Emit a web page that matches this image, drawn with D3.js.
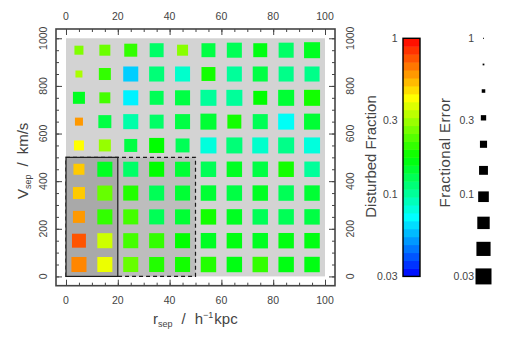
<!DOCTYPE html>
<html><head><meta charset="utf-8">
<script src="https://cdn.jsdelivr.net/npm/d3@7"></script>
<style>
body{margin:0;background:#fff;}
svg{display:block;}
text{font-family:"Liberation Sans",Arial,sans-serif;fill:#444;}
</style>
</head><body><svg id="chart" width="512" height="342"></svg>
<script>
// ---------------- data ----------------
const rCenters = [5, 15, 25, 35, 45, 55, 65, 75, 85, 95];
const vCenters = [950, 850, 750, 650, 550, 450, 350, 250, 150, 50];
// disturbed fraction, rows ordered as vCenters (top to bottom), columns as rCenters
const disturbedFraction = [
  [0.268, 0.250, 0.206, 0.122, 0.276, 0.137, 0.129, 0.163, 0.122, 0.154],
  [0.310, 0.206, 0.061, 0.115, 0.086, 0.184, 0.102, 0.137, 0.108, 0.108],
  [0.154, 0.219, 0.069, 0.129, 0.137, 0.102, 0.102, 0.173, 0.145, 0.184],
  [0.590, 0.137, 0.097, 0.122, 0.137, 0.145, 0.184, 0.129, 0.074, 0.145],
  [0.416, 0.290, 0.137, 0.173, 0.129, 0.081, 0.115, 0.086, 0.108, 0.081],
  [0.500, 0.154, 0.122, 0.173, 0.145, 0.129, 0.154, 0.137, 0.184, 0.102],
  [0.500, 0.246, 0.195, 0.129, 0.145, 0.145, 0.137, 0.154, 0.129, 0.145],
  [0.590, 0.206, 0.219, 0.129, 0.145, 0.184, 0.154, 0.129, 0.129, 0.137],
  [0.750, 0.350, 0.219, 0.206, 0.173, 0.154, 0.163, 0.154, 0.163, 0.163],
  [0.630, 0.390, 0.246, 0.195, 0.184, 0.195, 0.163, 0.206, 0.163, 0.163]
];
// fractional error (sets square size)
const fractionalError = [
  [0.139, 0.090, 0.058, 0.047, 0.090, 0.047, 0.037, 0.047, 0.037, 0.030],
  [0.216, 0.072, 0.037, 0.037, 0.037, 0.047, 0.037, 0.037, 0.037, 0.037],
  [0.072, 0.090, 0.037, 0.047, 0.037, 0.030, 0.030, 0.047, 0.030, 0.030],
  [0.173, 0.058, 0.037, 0.047, 0.037, 0.030, 0.047, 0.037, 0.030, 0.030],
  [0.112, 0.072, 0.058, 0.037, 0.047, 0.030, 0.030, 0.030, 0.030, 0.030],
  [0.090, 0.037, 0.037, 0.037, 0.037, 0.034, 0.034, 0.034, 0.034, 0.034],
  [0.072, 0.037, 0.037, 0.037, 0.037, 0.034, 0.034, 0.034, 0.034, 0.034],
  [0.072, 0.037, 0.037, 0.037, 0.037, 0.034, 0.034, 0.034, 0.034, 0.034],
  [0.047, 0.037, 0.037, 0.037, 0.037, 0.034, 0.034, 0.034, 0.034, 0.034],
  [0.037, 0.037, 0.037, 0.037, 0.037, 0.034, 0.034, 0.034, 0.034, 0.034]
];
const xTicks = [0, 20, 40, 60, 80, 100];
const yTicks = [0, 200, 400, 600, 800, 1000];
const xMinorTicks = d3.range(0, 101, 5);
const yMinorTicks = d3.range(0, 1001, 50);
const dataExtentR = [0, 100];
const dataExtentV = [0, 1000];
const outerRegion = [0, 50, 0, 500];   // r0, r1, v0, v1 (dashed)
const innerRegion = [0, 20, 0, 500];   // r0, r1, v0, v1 (solid)
const fracTicks = [1, 0.3, 0.1, 0.03];
const fracTickLabels = ["1", "0.3", "0.1", "0.03"];
const errTicks = [1, 0.3, 0.1, 0.03];
const errTickLabels = ["1", "0.3", "0.1", "0.03"];
const errLegendValues = [1, 0.68, 0.46, 0.31, 0.21, 0.143, 0.097, 0.066, 0.045, 0.03];
const nColorBands = 30;

// ---------------- scales ----------------
const svg = d3.select("#chart");
const frame = {l: 56, r: 335, t: 29, b: 285.7};
const x = d3.scaleLinear().domain([-3.86, 103.86]).range([frame.l, frame.r]);
const y = d3.scaleLinear().domain([-39, 1039]).range([frame.b, frame.t]);
const tScale = d3.scaleLog().domain([0.03, 1]).range([0, 1]).clamp(true);
const colorOf = v => d3.hsl(240 * (1 - tScale(v)), 1, 0.5).formatHex();
const sizeScale = d3.scaleLog().domain([1, 0.03]).range([0, 16]).clamp(true);
const cbY = d3.scaleLog().domain([0.03, 1]).range([y(0), y(1000)]);

// ---------------- background ----------------
svg.append("rect").attr("x", x(dataExtentR[0])).attr("y", y(dataExtentV[1]))
  .attr("width", x(dataExtentR[1]) - x(dataExtentR[0]))
  .attr("height", y(dataExtentV[0]) - y(dataExtentV[1]))
  .attr("fill", "#d3d3d3");

function regionRect(reg, fill, dash) {
  svg.append("rect").attr("x", x(reg[0])).attr("y", y(reg[3]))
    .attr("width", x(reg[1]) - x(reg[0])).attr("height", y(reg[2]) - y(reg[3]))
    .attr("fill", fill).attr("stroke", "#1a1a1a").attr("stroke-width", 1.2)
    .attr("stroke-dasharray", dash);
}
regionRect(outerRegion, "#bdbdbd", "4,3");
regionRect(innerRegion, "#a9a9a9", null);

// ---------------- cells ----------------
const cells = [];
vCenters.forEach((v, i) => rCenters.forEach((r, j) => {
  cells.push({r, v, f: disturbedFraction[i][j], e: fractionalError[i][j]});
}));
svg.append("g").selectAll("rect").data(cells).join("rect")
  .attr("x", d => x(d.r) - sizeScale(d.e) / 2)
  .attr("y", d => y(d.v) - sizeScale(d.e) / 2)
  .attr("width", d => sizeScale(d.e))
  .attr("height", d => sizeScale(d.e))
  .attr("fill", d => colorOf(d.f));

// ---------------- axes ----------------
function ax(gen, tr, vals, size) {
  const g = svg.append("g").attr("transform", tr)
    .call(gen.tickValues(vals).tickSize(size).tickSizeOuter(0).tickFormat(""));
  g.select(".domain").remove();
  g.selectAll("line").attr("stroke", "#444").attr("stroke-width", 1);
}
ax(d3.axisBottom(x), `translate(0,${frame.b})`, xTicks, -6);
ax(d3.axisBottom(x), `translate(0,${frame.b})`, xMinorTicks, -3);
ax(d3.axisTop(x), `translate(0,${frame.t})`, xTicks, -6);
ax(d3.axisTop(x), `translate(0,${frame.t})`, xMinorTicks, -3);
ax(d3.axisLeft(y), `translate(${frame.l},0)`, yTicks, -6);
ax(d3.axisLeft(y), `translate(${frame.l},0)`, yMinorTicks, -3);
ax(d3.axisRight(y), `translate(${frame.r},0)`, yTicks, -6);
ax(d3.axisRight(y), `translate(${frame.r},0)`, yMinorTicks, -3);

svg.append("rect").attr("x", frame.l).attr("y", frame.t)
  .attr("width", frame.r - frame.l).attr("height", frame.b - frame.t)
  .attr("fill", "none").attr("stroke", "#444").attr("stroke-width", 1.6);

const fs = 10.5;
svg.append("g").selectAll("text").data(xTicks).join("text")
  .attr("x", d => x(d)).attr("y", 304).attr("text-anchor", "middle")
  .attr("font-size", fs).text(d => d);
svg.append("g").selectAll("text").data(xTicks).join("text")
  .attr("x", d => x(d)).attr("y", 19.5).attr("text-anchor", "middle")
  .attr("font-size", fs).text(d => d);
svg.append("g").selectAll("text").data(yTicks).join("text")
  .attr("transform", d => `translate(47,${y(d)}) rotate(-90)`).attr("text-anchor", "middle")
  .attr("font-size", fs).text(d => d);
svg.append("g").selectAll("text").data(yTicks).join("text")
  .attr("transform", d => `translate(353.5,${y(d)}) rotate(-90)`).attr("text-anchor", "middle")
  .attr("font-size", fs).text(d => d);

// axis titles
const tfs = 15, sfs = 9;
const xt = svg.append("text").attr("x", 153).attr("y", 323.5)
  .attr("font-size", tfs);
xt.append("tspan").text("r");
xt.append("tspan").attr("font-size", sfs).attr("dy", 3.5).text("sep");
xt.append("tspan").attr("dx", 9).attr("dy", -3.5).text("/");
xt.append("tspan").attr("dx", 9).text("h");
xt.append("tspan").attr("font-size", sfs).attr("dy", -6).text("\u22121");
xt.append("tspan").attr("dx", 1).attr("dy", 6).text("kpc");

const yt = svg.append("text").attr("transform", `translate(27.5,199) rotate(-90)`)
  .attr("font-size", tfs);
yt.append("tspan").text("V");
yt.append("tspan").attr("font-size", sfs).attr("dy", 3.5).text("sep");
yt.append("tspan").attr("dx", 8).attr("dy", -3.5).text("/");
yt.append("tspan").attr("dx", 8).text("km/s");

svg.append("text").attr("transform", `translate(376,156.5) rotate(-90)`)
  .attr("text-anchor", "middle").attr("font-size", tfs)
  .text("Disturbed Fraction");
svg.append("text").attr("transform", `translate(449.5,152.5) rotate(-90)`)
  .attr("text-anchor", "middle").attr("font-size", tfs).attr("letter-spacing", 0.4)
  .text("Fractional Error");

// ---------------- colour bar ----------------
const bands = d3.range(nColorBands).map(k => ({
  lo: 0.03 * Math.pow(1 / 0.03, k / nColorBands),
  hi: 0.03 * Math.pow(1 / 0.03, (k + 1) / nColorBands)
}));
const cbX0 = 403, cbX1 = 420;
svg.append("g").selectAll("rect").data(bands).join("rect")
  .attr("x", cbX0).attr("width", cbX1 - cbX0)
  .attr("y", d => cbY(d.hi)).attr("height", d => cbY(d.lo) - cbY(d.hi) + 0.5)
  .attr("fill", d => colorOf(Math.sqrt(d.lo * d.hi)));
svg.append("rect").attr("x", cbX0).attr("y", cbY(1)).attr("width", cbX1 - cbX0)
  .attr("height", cbY(0.03) - cbY(1)).attr("fill", "none")
  .attr("stroke", "#000").attr("stroke-width", 1.4);
svg.append("g").selectAll("text").data(fracTicks).join("text")
  .attr("x", 397.5).attr("y", d => cbY(d)).attr("dy", "0.35em").attr("text-anchor", "end")
  .attr("font-size", fs).text((d, i) => fracTickLabels[i]);

// ---------------- error legend ----------------
const errY = d3.scaleLog().domain([0.03, 1]).range([y(0), y(1000)]);
svg.append("g").selectAll("rect").data(errLegendValues).join("rect")
  .attr("x", d => 483.5 - Math.max(1, sizeScale(d)) / 2)
  .attr("y", d => errY(d) - Math.max(1, sizeScale(d)) / 2)
  .attr("width", d => Math.max(1, sizeScale(d)))
  .attr("height", d => Math.max(1, sizeScale(d)))
  .attr("fill", "#000");
svg.append("g").selectAll("text").data(errTicks).join("text")
  .attr("x", 474).attr("y", d => errY(d)).attr("dy", "0.35em").attr("text-anchor", "end")
  .attr("font-size", fs).text((d, i) => errTickLabels[i]);
</script>
</body></html>
